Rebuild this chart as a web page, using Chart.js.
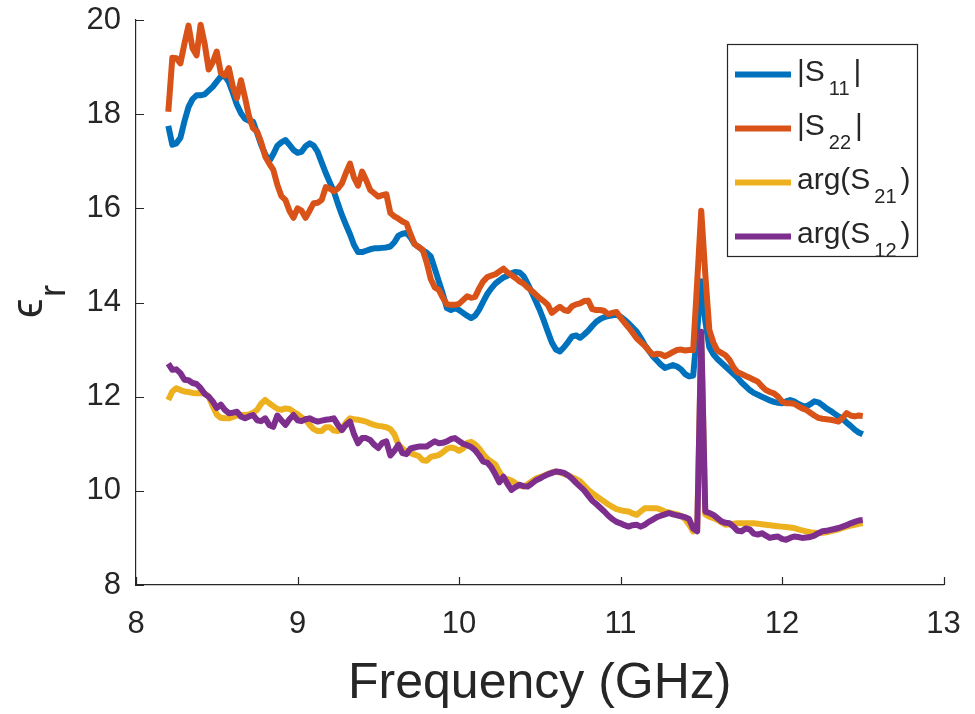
<!DOCTYPE html>
<html>
<head>
<meta charset="utf-8">
<style>
  html, body { margin: 0; padding: 0; background: #ffffff; overflow: hidden; }
  #wrap { width: 975px; height: 714px; }
  canvas { display: block; }
</style>
<script src="https://cdn.jsdelivr.net/npm/chart.js@4.4.1/dist/chart.umd.min.js"></script>
</head>
<body>
<div id="wrap"><canvas id="epsChart" width="975" height="714"></canvas></div>
<script>
// frequency sweep (GHz)
const freq = [
  8.2, 8.225, 8.25, 8.275, 8.3, 8.325, 8.35, 8.375, 8.4, 8.425, 8.45, 8.475, 8.5, 8.525, 8.55, 8.575,
  8.6, 8.625, 8.65, 8.675, 8.7, 8.725, 8.75, 8.775, 8.8, 8.825, 8.85, 8.875, 8.9, 8.925, 8.95, 8.975,
  9, 9.025, 9.05, 9.075, 9.1, 9.125, 9.15, 9.175, 9.2, 9.225, 9.25, 9.275, 9.3, 9.325, 9.35, 9.375,
  9.4, 9.425, 9.45, 9.475, 9.5, 9.525, 9.55, 9.575, 9.6, 9.625, 9.65, 9.675, 9.7, 9.725, 9.75, 9.775,
  9.8, 9.825, 9.85, 9.875, 9.9, 9.925, 9.95, 9.975,
  10, 10.025, 10.05, 10.075, 10.1, 10.125, 10.15, 10.175, 10.2, 10.225, 10.25, 10.275, 10.3, 10.325, 10.35, 10.375,
  10.4, 10.425, 10.45, 10.475, 10.5, 10.525, 10.55, 10.575, 10.6, 10.625, 10.65, 10.675, 10.7, 10.725, 10.75, 10.775,
  10.8, 10.825, 10.85, 10.875, 10.9, 10.925, 10.95, 10.975,
  11, 11.025, 11.05, 11.075, 11.1, 11.125, 11.15, 11.175, 11.2, 11.225, 11.25, 11.275, 11.3, 11.325, 11.35, 11.375,
  11.4, 11.425, 11.45, 11.475, 11.5, 11.525, 11.55, 11.575, 11.6, 11.625, 11.65, 11.675, 11.7, 11.725, 11.75, 11.775,
  11.8, 11.825, 11.85, 11.875, 11.9, 11.925, 11.95, 11.975,
  12, 12.025, 12.05, 12.075, 12.1, 12.125, 12.15, 12.175, 12.2, 12.225, 12.25, 12.275, 12.3, 12.325, 12.35, 12.375,
  12.4, 12.425, 12.45, 12.475, 12.5
];

// |S11|
const epsS11 = [
  17.75, 17.35, 17.38, 17.50, 17.85, 18.15, 18.32, 18.40, 18.40, 18.42, 18.50, 18.58, 18.69, 18.80, 18.82, 18.68,
  18.45, 18.20, 18.02, 17.90, 17.86, 17.84, 17.60, 17.35, 17.15, 17.00, 17.15, 17.33, 17.40, 17.45, 17.35, 17.24,
  17.18, 17.20, 17.32, 17.38, 17.33, 17.20, 16.97, 16.75, 16.55, 16.36, 16.10, 15.86, 15.65, 15.45, 15.22, 15.07,
  15.07, 15.10, 15.13, 15.15, 15.15, 15.16, 15.17, 15.19, 15.28, 15.42, 15.46, 15.48, 15.38, 15.24, 15.18, 15.11,
  15.06, 14.98, 14.72, 14.45, 14.18, 13.88, 13.84, 13.88,
  13.84, 13.78, 13.72, 13.67, 13.72, 13.85, 14.02, 14.18, 14.30, 14.40, 14.47, 14.53, 14.57, 14.62, 14.65, 14.64,
  14.56, 14.40, 14.22, 14.03, 13.84, 13.62, 13.38, 13.15, 13.00, 12.96, 13.05, 13.16, 13.28, 13.30, 13.25, 13.32,
  13.40, 13.50, 13.59, 13.65, 13.69, 13.71, 13.73, 13.74,
  13.70, 13.63, 13.56, 13.47, 13.38, 13.25, 13.10, 12.98, 12.86, 12.77, 12.68, 12.61, 12.64, 12.67, 12.64, 12.58,
  12.48, 12.43, 12.45, 13.40, 14.45, 13.60, 13.05, 12.90, 12.80, 12.72, 12.64, 12.56, 12.48, 12.40, 12.30, 12.22,
  12.14, 12.08, 12.04, 12.00, 11.96, 11.92, 11.89, 11.87,
  11.86, 11.90, 11.93, 11.90, 11.85, 11.81, 11.79, 11.84, 11.90, 11.88, 11.82, 11.75, 11.70, 11.64, 11.58, 11.53,
  11.45, 11.38, 11.30, 11.24, 11.20
];

// |S22|
const epsS22 = [
  18.05, 19.20, 19.19, 19.08, 19.50, 19.88, 19.40, 19.25, 19.90, 19.50, 18.95, 19.10, 19.33, 18.88, 18.82, 18.98,
  18.58, 18.34, 18.72, 18.35, 17.95, 17.70, 17.63, 17.40, 17.10, 16.95, 16.82, 16.50, 16.26, 16.18, 15.95, 15.80,
  16.00, 15.95, 15.80, 15.95, 16.11, 16.12, 16.18, 16.45, 16.42, 16.36, 16.42, 16.53, 16.75, 16.95, 16.65, 16.48,
  16.78, 16.60, 16.39, 16.32, 16.25, 16.28, 16.30, 15.90, 15.83, 15.78, 15.72, 15.68, 15.45, 15.24, 15.18, 15.12,
  14.85, 14.50, 14.32, 14.27, 14.10, 13.96, 13.95, 13.95,
  13.97, 14.05, 14.13, 14.10, 14.12, 14.30, 14.45, 14.54, 14.57, 14.60, 14.66, 14.72, 14.64, 14.58, 14.52, 14.45,
  14.40, 14.32, 14.25, 14.17, 14.09, 14.03, 13.95, 13.78, 13.85, 13.91, 13.84, 13.82, 13.92, 13.96, 13.98, 14.03,
  14.04, 13.86, 13.84, 13.84, 13.82, 13.75, 13.78, 13.80,
  13.68, 13.57, 13.47, 13.36, 13.24, 13.16, 13.08, 12.98, 12.89, 12.91, 12.90, 12.86, 12.90, 12.95, 12.99, 13.00,
  12.98, 12.99, 12.99, 14.45, 15.95, 14.60, 13.42, 13.15, 12.98, 12.93, 12.88, 12.78, 12.62, 12.52, 12.48, 12.44,
  12.40, 12.36, 12.32, 12.22, 12.14, 12.10, 12.07, 12.00,
  11.90, 11.86, 11.86, 11.85, 11.80, 11.75, 11.72, 11.66, 11.60, 11.55, 11.53, 11.52, 11.51, 11.49, 11.47, 11.55,
  11.65, 11.60, 11.58, 11.60, 11.59
];

// arg(S21)
const epsS21 = [
  11.93, 12.11, 12.18, 12.14, 12.11, 12.10, 12.08, 12.07, 12.07, 12.07, 12.00, 11.80, 11.62, 11.55, 11.54, 11.54,
  11.57, 11.60, 11.61, 11.61, 11.62, 11.66, 11.72, 11.85, 11.93, 11.86, 11.80, 11.74, 11.72, 11.75, 11.74, 11.68,
  11.63, 11.56, 11.51, 11.40, 11.31, 11.27, 11.27, 11.35, 11.35, 11.28, 11.27, 11.32, 11.45, 11.54, 11.52, 11.51,
  11.49, 11.47, 11.43, 11.40, 11.38, 11.37, 11.35, 11.31, 11.20, 10.98, 10.90, 10.83, 10.80, 10.77, 10.74, 10.65,
  10.64, 10.72, 10.74, 10.76, 10.82, 10.89, 10.92, 10.90,
  10.85, 10.90, 11.02, 11.04, 10.99, 10.90, 10.78, 10.68, 10.62, 10.56, 10.40, 10.27, 10.25, 10.22, 10.16, 10.11,
  10.09, 10.14, 10.20, 10.26, 10.29, 10.32, 10.36, 10.39, 10.41, 10.39, 10.36, 10.33, 10.29, 10.25, 10.20, 10.11,
  10.02, 9.95, 9.89, 9.83, 9.77, 9.71, 9.66, 9.61,
  9.59, 9.57, 9.56, 9.52, 9.49, 9.56, 9.63, 9.63, 9.63, 9.63, 9.60, 9.56, 9.54, 9.52, 9.50, 9.47,
  9.40, 9.28, 9.14, 9.20, 13.30, 9.50, 9.45, 9.42, 9.38, 9.33, 9.28, 9.29, 9.30, 9.31, 9.31, 9.31,
  9.31, 9.31, 9.30, 9.29, 9.28, 9.27, 9.26, 9.25,
  9.24, 9.23, 9.22, 9.21, 9.18, 9.16, 9.14, 9.12, 9.11, 9.10, 9.11, 9.12, 9.14, 9.16, 9.18, 9.21,
  9.24, 9.26, 9.28, 9.30, 9.31
];

// arg(S12)
const epsS12 = [
  12.70, 12.57, 12.58, 12.50, 12.36, 12.35, 12.29, 12.27, 12.18, 12.06, 12.00, 11.90, 11.76, 11.83, 11.72, 11.65,
  11.66, 11.68, 11.58, 11.54, 11.58, 11.61, 11.50, 11.48, 11.54, 11.40, 11.36, 11.60, 11.50, 11.40, 11.52, 11.61,
  11.50, 11.48, 11.52, 11.54, 11.50, 11.47, 11.49, 11.51, 11.52, 11.54, 11.40, 11.29, 11.40, 11.47, 11.20, 11.01,
  11.12, 11.12, 11.08, 10.98, 10.91, 11.02, 11.05, 10.75, 10.85, 10.98, 10.80, 10.78, 10.90, 10.92, 10.94, 10.94,
  10.94, 11.00, 11.05, 11.01, 11.02, 11.05, 11.10, 11.12,
  11.06, 11.00, 10.97, 10.93, 10.86, 10.75, 10.62, 10.60, 10.50, 10.35, 10.18, 10.30, 10.15, 10.02, 10.08, 10.13,
  10.10, 10.09, 10.15, 10.22, 10.26, 10.31, 10.35, 10.38, 10.41, 10.40, 10.38, 10.33, 10.26, 10.17, 10.09, 10.01,
  9.90, 9.79, 9.72, 9.64, 9.56, 9.47, 9.40, 9.34,
  9.31, 9.27, 9.24, 9.27, 9.28, 9.24, 9.28, 9.34, 9.39, 9.44, 9.47, 9.50, 9.53, 9.50, 9.48, 9.46,
  9.44, 9.40, 9.20, 9.14, 13.38, 9.56, 9.53, 9.49, 9.42, 9.35, 9.32, 9.31, 9.24, 9.15, 9.14, 9.20,
  9.18, 9.09, 9.07, 9.10, 9.05, 9.00, 9.02, 9.03,
  8.98, 8.96, 9.00, 9.03, 9.02, 9.00, 9.01, 9.02, 9.05, 9.10, 9.14, 9.15, 9.17, 9.19, 9.21, 9.24,
  9.27, 9.31, 9.34, 9.37, 9.38
];

const xTicks = [8, 9, 10, 11, 12, 13];
const yTicks = [8, 10, 12, 14, 16, 18, 20];

const legendMain = ["|S", "|S", "arg(S", "arg(S"];
const legendSub = ["11", "22", "21", "12"];
const legendEnd = ["|", "|", ")", ")"];
const seriesColors = ["#0072BD", "#D95319", "#EDB120", "#7E2F8E"];

const fontFamily = '"Liberation Sans", Arial, Helvetica, "DejaVu Sans", sans-serif';
const ink = "#262626";

function pairs(ys) {
  return freq.map((f, i) => ({ x: f, y: ys[i] }));
}

function line(data, color, order) {
  return {
    data: pairs(data),
    borderColor: color,
    backgroundColor: color,
    borderWidth: 6,
    pointRadius: 0,
    tension: 0,
    fill: false,
    borderJoinStyle: "round",
    borderCapStyle: "butt",
    order: order,
  };
}

// ticks pointing inward, axis titles with subscripts, MATLAB-like legend
const matlabDecor = {
  id: "matlabDecor",
  afterDraw(chart) {
    const ctx = chart.ctx;
    const xs = chart.scales.x;
    const ys = chart.scales.y;
    const area = chart.chartArea;
    ctx.save();

    ctx.strokeStyle = ink;
    ctx.lineWidth = 1.2;
    ctx.beginPath();
    xTicks.forEach((v) => {
      const px = Math.round(xs.getPixelForValue(v)) + 0.5;
      ctx.moveTo(px, area.bottom);
      ctx.lineTo(px, area.bottom - 8);
    });
    yTicks.forEach((v) => {
      const py = Math.round(ys.getPixelForValue(v)) + 0.5;
      ctx.moveTo(area.left, py);
      ctx.lineTo(area.left + 8, py);
    });
    ctx.stroke();

    // x title
    ctx.fillStyle = ink;
    ctx.textAlign = "center";
    ctx.textBaseline = "alphabetic";
    ctx.font = "50px " + fontFamily;
    ctx.fillText("Frequency (GHz)", (area.left + area.right) / 2, 698);

    // y title: epsilon with subscript r, rotated
    ctx.save();
    ctx.translate(42, 318);
    ctx.rotate(-Math.PI / 2);
    ctx.textAlign = "left";
    ctx.font = "44px " + fontFamily;
    ctx.fillText("\u03F5", 0, 0);
    ctx.font = "36px " + fontFamily;
    ctx.fillText("r", 21, 23);
    ctx.restore();

    // legend
    const bx = 727.5, by = 44.5, bw = 190, bh = 212;
    ctx.fillStyle = "#ffffff";
    ctx.fillRect(bx, by, bw, bh);
    ctx.strokeStyle = ink;
    ctx.lineWidth = 1.2;
    ctx.strokeRect(bx, by, bw, bh);
    ctx.textAlign = "left";
    for (let i = 0; i < legendMain.length; i++) {
      const ly = by + 30 + i * 54;
      ctx.strokeStyle = seriesColors[i];
      ctx.lineWidth = 6;
      ctx.beginPath();
      ctx.moveTo(735, ly);
      ctx.lineTo(791, ly);
      ctx.stroke();

      ctx.fillStyle = ink;
      let tx = 797;
      const base = ly + 6;
      ctx.font = "30px " + fontFamily;
      ctx.fillText(legendMain[i], tx, base);
      tx += ctx.measureText(legendMain[i]).width + 4;
      ctx.font = "20px " + fontFamily;
      ctx.fillText(legendSub[i], tx, base + 14);
      tx += ctx.measureText(legendSub[i]).width + 4;
      ctx.font = "30px " + fontFamily;
      ctx.fillText(legendEnd[i], tx, base);
    }
    ctx.restore();
  },
};

new Chart(document.getElementById("epsChart"), {
  type: "line",
  data: {
    datasets: [
      line(epsS11, seriesColors[0], 4),
      line(epsS22, seriesColors[1], 3),
      line(epsS21, seriesColors[2], 2),
      line(epsS12, seriesColors[3], 1),
    ],
  },
  options: {
    responsive: false,
    animation: false,
    devicePixelRatio: 1,
    layout: {
      padding: { top: 20, right: 31.5, left: 0, bottom: 0 },
    },
    plugins: {
      legend: { display: false },
      tooltip: { enabled: false },
    },
    scales: {
      x: {
        type: "linear",
        min: 8,
        max: 13,
        afterBuildTicks: (s) => { s.ticks = xTicks.map((v) => ({ value: v })); },
        afterFit: (s) => { s.height = 129; },
        // tick marks are drawn by the plugin; tickLength only spaces the labels
        grid: { display: false, drawTicks: true, tickLength: 21 },
        border: { display: true, color: ink, width: 1.2 },
        ticks: {
          color: ink,
          padding: 0,
          maxRotation: 0,
          font: { family: fontFamily, size: 31 },
        },
      },
      y: {
        type: "linear",
        min: 8,
        max: 20,
        afterBuildTicks: (s) => { s.ticks = yTicks.map((v) => ({ value: v })); },
        afterFit: (s) => { s.width = 136; },
        grid: { display: false, drawTicks: true, tickLength: 15 },
        border: { display: true, color: ink, width: 1.2 },
        ticks: {
          color: ink,
          padding: 0,
          font: { family: fontFamily, size: 31 },
        },
      },
    },
  },
  plugins: [matlabDecor],
});
</script>
</body>
</html>
